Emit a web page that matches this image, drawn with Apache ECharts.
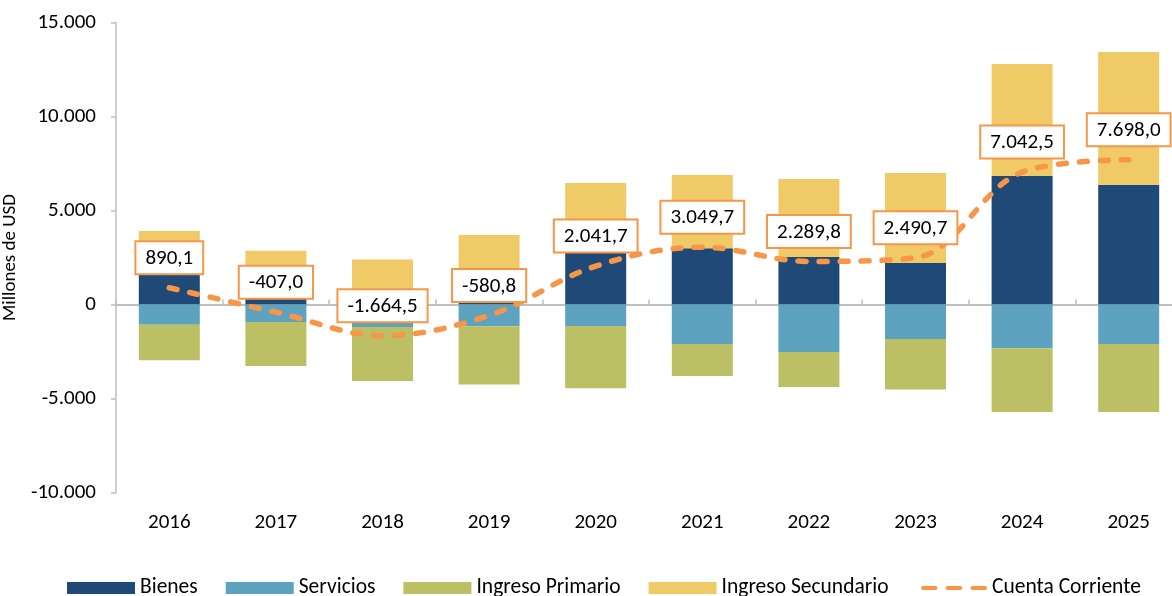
<!DOCTYPE html>
<html>
<head>
<meta charset="utf-8">
<script src="https://cdn.jsdelivr.net/npm/echarts@6/dist/echarts.min.js"></script>
<style>
html,body{margin:0;padding:0;background:#fff;}
#c{width:1172px;height:596px;}
</style>
</head>
<body>
<div id="c"></div>
<script>
const years = ['2016','2017','2018','2019','2020','2021','2022','2023','2024','2025'];
const bienes = [1570, 350, -300, 800, 3400, 2990, 2530, 2210, 6840, 6370];
const servicios = [-1080, -930, -900, -1160, -1140, -2100, -2530, -1840, -2330, -2100];
const ingresoPrimario = [-1880, -2340, -2870, -3090, -3310, -1700, -1860, -2680, -3390, -3620];
const ingresoSecundario = [2340, 2510, 2400, 2900, 3060, 3900, 4150, 4780, 5950, 7060];
const cuentaCorriente = [890.1, -407.0, -1664.5, -580.8, 2041.7, 3049.7, 2289.8, 2490.7, 7042.5, 7698.0];
const yTicks = [-10000, -5000, 0, 5000, 10000, 15000];

const FONT = 'Carlito, Lato, "Open Sans", sans-serif';

function fmtThousands(v, dec) {
  const neg = v < 0;
  let s = Math.abs(v).toFixed(dec);
  let parts = s.split('.');
  let intPart = parts[0].replace(/\B(?=(\d{3})+(?!\d))/g, '.');
  let out = intPart + (dec > 0 ? ',' + parts[1] : '');
  return (neg ? '-' : '') + out;
}

const chart = echarts.init(document.getElementById('c'), null, {renderer: 'canvas'});
const barW = 61;
const dashIcon = 'path://M2,0 H14 A2,2 0 0 1 14,4 H2 A2,2 0 0 1 2,0 Z M26,0 H38 A2,2 0 0 1 38,4 H26 A2,2 0 0 1 26,0 Z M50,0 H62 A2,2 0 0 1 62,4 H50 A2,2 0 0 1 50,0 Z';
const option = {
  backgroundColor: '#ffffff',
  animation: false,
  textStyle: {fontFamily: FONT},
  grid: {left: 116, top: 22.5, width: 1066, height: 470, outerBoundsMode: 'none', containLabel: false},
  legend: [
    {
      left: 67, top: 577, padding: 0,
      itemWidth: 68, itemHeight: 12, itemGap: 28,
      textStyle: {fontSize: 21.5, color: '#000', fontFamily: FONT},
      data: [
        {name: 'Bienes', icon: 'rect'},
        {name: 'Servicios', icon: 'rect'},
        {name: 'Ingreso Primario', icon: 'rect'},
        {name: 'Ingreso Secundario', icon: 'rect'}
      ]
    },
    {
      left: 921, top: 577, padding: 0,
      itemWidth: 66, itemHeight: 7,
      textStyle: {fontSize: 21.5, color: '#000', fontFamily: FONT},
      data: [{name: 'Cuenta Corriente', icon: dashIcon, itemStyle: {color: '#F79646', opacity: 1}}]
    }
  ],
  xAxis: [
    {
      type: 'category', data: years, position: 'bottom',
      axisLine: {show: false, onZero: false},
      axisTick: {show: false},
      axisLabel: {margin: 20, fontSize: 21, color: '#000', fontFamily: FONT}
    },
    {
      type: 'category', data: years, position: 'top',
      axisLine: {show: true, onZero: true, lineStyle: {color: '#bfbfbf', width: 2}},
      axisTick: {show: true, inside: false, length: 5, lineStyle: {color: '#bfbfbf', width: 1.5}},
      axisLabel: {show: false}
    }
  ],
  yAxis: {
    type: 'value', min: -10000, max: 15000, interval: 5000,
    name: 'Millones de USD', nameLocation: 'middle', nameGap: 84, nameRotate: 90,
    nameTextStyle: {fontSize: 19, color: '#000', fontFamily: FONT},
    axisLine: {show: true, lineStyle: {color: '#bfbfbf', width: 1.5}},
    axisTick: {show: true, inside: false, length: 5, lineStyle: {color: '#bfbfbf', width: 1.5}},
    splitLine: {show: false},
    axisLabel: {
      margin: 20, fontSize: 21, color: '#000', fontFamily: FONT,
      customValues: yTicks,
      formatter: v => fmtThousands(v, 0)
    }
  },
  series: [
    {name: 'Bienes', type: 'bar', stack: 'ca', barWidth: barW, data: bienes, itemStyle: {color: '#1F4A78'}},
    {name: 'Servicios', type: 'bar', stack: 'ca', barWidth: barW, data: servicios, itemStyle: {color: '#5DA3C0'}},
    {name: 'Ingreso Primario', type: 'bar', stack: 'ca', barWidth: barW, data: ingresoPrimario, itemStyle: {color: '#BDBF65'}},
    {name: 'Ingreso Secundario', type: 'bar', stack: 'ca', barWidth: barW, data: ingresoSecundario, itemStyle: {color: '#EFCA67'}},
    {
      name: 'Cuenta Corriente', type: 'line', data: cuentaCorriente, z: 5,
      smooth: 0.35, symbol: 'circle', symbolSize: 1, showSymbol: true,
      lineStyle: {color: '#F79646', width: 5.5, type: [8, 13], cap: 'round'},
      itemStyle: {color: '#F79646'},
      label: {
        show: true, position: 'top', distance: 14,
        fontSize: 21, color: '#000', fontFamily: FONT,
        backgroundColor: '#fff', borderColor: '#F79646', borderWidth: 2,
        padding: [6, 9, 4, 9],
        formatter: p => fmtThousands(p.value, 1)
      },
      labelLayout: {hideOverlap: false}
    }
  ]
};
chart.setOption(option);
</script>
</body>
</html>
